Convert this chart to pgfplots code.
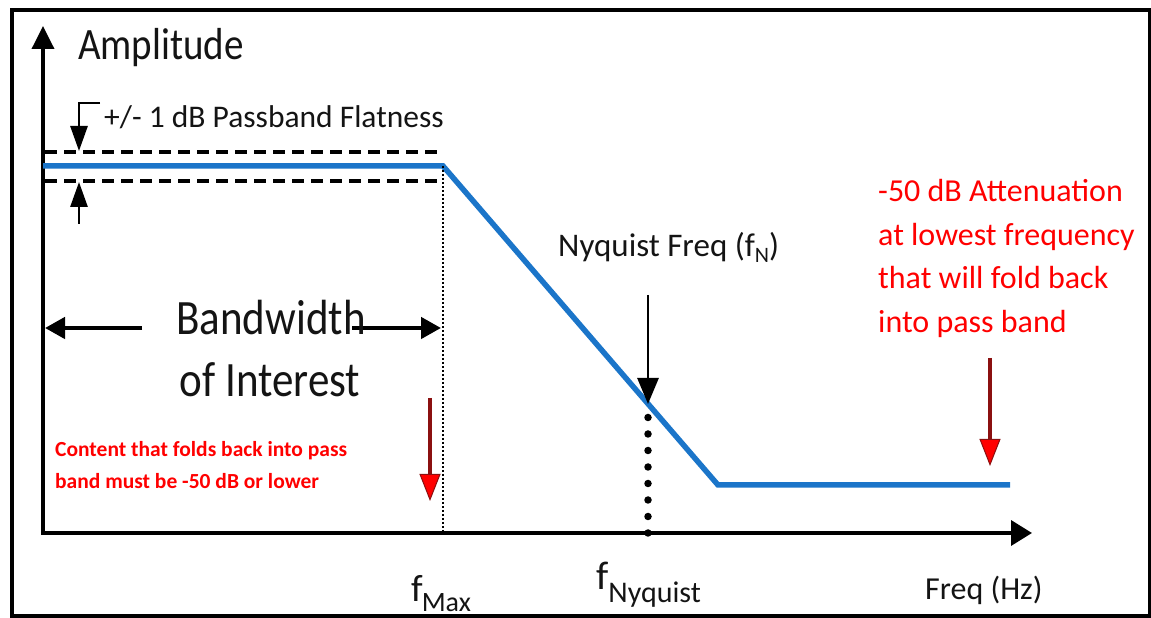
\documentclass[border=0pt]{standalone}
\usepackage{pgfplots}
\pgfplotsset{compat=1.18}
\usepackage{fontspec}
\setmainfont{Carlito}
\usetikzlibrary{arrows.meta}
\definecolor{lineblue}{HTML}{1B75C9}
\definecolor{shaftred}{HTML}{8B1010}
\newcommand{\fs}[1]{\fontsize{#1}{#1}\selectfont}
\newcommand{\tall}[1]{\scalebox{1}[1.15]{#1}}
\begin{document}
\begin{tikzpicture}
\begin{axis}[width=1151pt,height=618pt,scale only axis,
  xmin=0,xmax=1151,ymin=0,ymax=618,hide axis,clip=false]
% frame
\draw[line width=4pt, line join=miter] (axis cs:12,1.5) rectangle (axis cs:1149.5,608);
% axes
\addplot[black, mark=none, line width=3.6pt, -{Triangle[width=22pt,length=23pt]}] coordinates {(43,83) (43,592)};
\addplot[black, mark=none, line width=3.6pt, -{Triangle[width=25pt,length=21pt]}] coordinates {(41.2,85) (1032,85)};
% response curve
\addplot[lineblue, mark=none, line width=5.5pt] coordinates {(43,452) (443,452) (718,133) (1010,133)};
% flatness limits
\addplot[black, mark=none, line width=3.3pt, dash pattern=on 12pt off 7pt] coordinates {(45,466) (443,466)};
\addplot[black, mark=none, line width=3.3pt, dash pattern=on 12pt off 7pt] coordinates {(45,437) (443,437)};
% f max dotted
\addplot[black, mark=none, line width=2.6pt, dash pattern=on 2pt off 2pt] coordinates {(443,452) (443,85)};
% nyquist big dots
\addplot[black, mark=none, line width=7.5pt, line cap=round, dash pattern=on 0pt off 16.5pt] coordinates {(648,85) (648,216)};
% nyquist arrow
\addplot[black, mark=none, line width=2.8pt, -{Triangle[width=21pt,length=26pt]}] coordinates {(648,323) (648,214)};
% bandwidth arrows
\addplot[black, mark=none, line width=4.5pt, -{Triangle[width=21pt,length=20pt]}] coordinates {(142,290) (45,290)};
\addplot[black, mark=none, line width=4.5pt, -{Triangle[width=21pt,length=20pt]}] coordinates {(352,290) (441,290)};
% flatness arrows
\addplot[black, mark=none, line width=2.8pt, line join=miter, -{Triangle[width=17pt,length=25pt]}] coordinates {(100,515) (79,515) (79,467)};
\addplot[black, mark=none, line width=2.8pt, -{Triangle[width=17pt,length=25pt]}] coordinates {(79,394) (79,436)};
% red arrows
\addplot[shaftred, mark=none, line width=3.8pt, -{Triangle[width=21pt,length=27pt,fill=red,line width=1pt]}] coordinates {(430,220) (430,117)};
\addplot[shaftred, mark=none, line width=3.8pt, -{Triangle[width=21pt,length=27pt,fill=red,line width=1pt]}] coordinates {(990,260) (990,152)};
% texts
\node[anchor=base west, inner sep=0pt, font=\fs{39}, text=black!92] at (axis cs:78,558) {\tall{Amplitude}};
\node[anchor=base west, inner sep=0pt, font=\fs{31.5}, text=black!92] at (axis cs:104,490) {+/- 1 dB Passband Flatness};
\node[anchor=base, inner sep=0pt, font=\fs{43}, text=black!92] at (axis cs:271,283) {\tall{Bandwidth}};
\node[anchor=base, inner sep=0pt, font=\fs{43}, text=black!92] at (axis cs:270,221) {\tall{of Interest}};
\node[anchor=base west, inner sep=0pt, font=\fs{33}, text=black!92] at (axis cs:558,361) {Nyquist Freq (f\raisebox{-6pt}{\fs{22}N})};
\node[anchor=base west, inner sep=0pt, font=\fs{32}, text=red] at (axis cs:878,416) {-50 dB Attenuation};
\node[anchor=base west, inner sep=0pt, font=\fs{32}, text=red] at (axis cs:878,372) {at lowest frequency};
\node[anchor=base west, inner sep=0pt, font=\fs{32}, text=red] at (axis cs:878,329) {that will fold back};
\node[anchor=base west, inner sep=0pt, font=\fs{32}, text=red] at (axis cs:878,285) {into pass band};
\node[anchor=base west, inner sep=0pt, font=\bfseries\fs{21.5}, text=red] at (axis cs:55,161) {Content that folds back into pass};
\node[anchor=base west, inner sep=0pt, font=\bfseries\fs{21.5}, text=red] at (axis cs:55,129) {band must be -50 dB or lower};
\node[anchor=base west, inner sep=0pt, font=\fs{38}, text=black!92] at (axis cs:411,16) {f\kern-1pt\raisebox{-10pt}{\fs{28}Max}};
\node[anchor=base west, inner sep=0pt, font=\fs{40}, text=black!92] at (axis cs:596,28) {f\raisebox{-13pt}{\fs{30}Nyquist}};
\node[anchor=base west, inner sep=0pt, font=\fs{32}, text=black!92] at (axis cs:925,18) {Freq (Hz)};
\end{axis}
\pgfresetboundingbox
\path (current axis.south west) rectangle (current axis.north east);
\end{tikzpicture}
\end{document}
